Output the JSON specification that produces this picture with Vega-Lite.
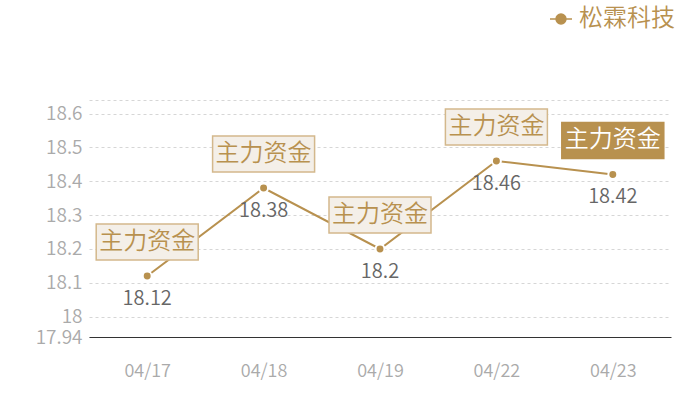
{
  "$schema": "https://vega.github.io/schema/vega-lite/v6.json",
  "autosize": "none",
  "width": 582,
  "height": 237,
  "padding": {"left": 89, "top": 100, "right": 29, "bottom": 63},
  "background": "white",
  "config": {
    "font": "Noto Sans CJK SC",
    "view": {"stroke": null}
  },
  "data": {
    "values": [
      {"date": "04/17", "price": 18.12, "tag": "主力资金", "stock": "松霖科技"},
      {"date": "04/18", "price": 18.38, "tag": "主力资金", "stock": "松霖科技"},
      {"date": "04/19", "price": 18.2, "tag": "主力资金", "stock": "松霖科技"},
      {"date": "04/22", "price": 18.46, "tag": "主力资金", "stock": "松霖科技"},
      {"date": "04/23", "price": 18.42, "tag": "主力资金", "stock": "松霖科技"}
    ]
  },
  "encoding": {
    "x": {
      "field": "date",
      "type": "ordinal",
      "title": null,
      "scale": {"paddingInner": 0, "paddingOuter": 0},
      "axis": {
        "labelAngle": 0,
        "labelColor": "#aaaaaa",
        "labelFontSize": 18,
        "labelFontWeight": 350,
        "labelPadding": 25,
        "ticks": false,
        "domainColor": "#333333",
        "domainWidth": 1,
        "grid": false
      }
    },
    "y": {
      "field": "price",
      "type": "quantitative",
      "title": null,
      "scale": {"domain": [17.94, 18.64], "nice": false, "zero": false},
      "axis": {
        "values": [17.94, 18, 18.1, 18.2, 18.3, 18.4, 18.5, 18.6, 18.64],
        "labelExpr": "datum.value == 18.64 ? '' : datum.value == 17.94 ? '17.94' : datum.value == 18 ? '18' : format(datum.value, '.1f')",
        "labelColor": "#aaaaaa",
        "labelFontSize": 19,
        "labelFontWeight": 350,
        "labelPadding": 7,
        "labelOverlap": false,
        "ticks": false,
        "domain": false,
        "gridColor": "#d6d6d6",
        "gridDash": [3, 3],
        "gridWidth": 1
      }
    }
  },
  "layer": [
    {
      "mark": {"type": "line", "color": "#b8914f", "strokeWidth": 2},
      "encoding": {
        "color": {
          "field": "stock",
          "type": "nominal",
          "scale": {"range": ["#b8914f"]},
          "legend": {
            "title": null,
            "orient": "none",
            "legendX": 460,
            "legendY": -93,
            "labelFontSize": 24,
            "labelFontWeight": 350,
            "labelColor": "#b8914f",
            "labelOffset": 6,
            "labelLimit": 200,
            "symbolType": "M-1,0L-0.45,0M0.45,0L1,0M0.45,0A0.45,0.45 0 1,1 -0.45,0A0.45,0.45 0 1,1 0.45,0Z",
            "symbolSize": 484,
            "symbolStrokeWidth": 1.5,
            "symbolFillColor": "#b8914f",
            "symbolStrokeColor": "#b8914f"
          }
        }
      }
    },
    {
      "mark": {"type": "point", "filled": true, "size": 80, "color": "#b8914f", "stroke": "white", "strokeWidth": 2, "opacity": 1}
    },
    {
      "mark": {"type": "text", "dy": 23, "fontSize": 20, "fontWeight": 350, "color": "#666666"},
      "encoding": {"text": {"field": "price", "type": "quantitative"}}
    },
    {
      "mark": {
        "type": "point",
        "shape": "M-1,-0.353L1,-0.353L1,0.353L-1,0.353Z",
        "size": 10404,
        "filled": true,
        "opacity": 1,
        "strokeWidth": 1.5,
        "yOffset": -34
      },
      "encoding": {
        "fill": {
          "condition": {"test": "datum.date == '04/23'", "value": "#b8914f"},
          "value": "#f4efe8"
        },
        "stroke": {
          "condition": {"test": "datum.date == '04/23'", "value": "#b8914f"},
          "value": "#d3b88c"
        }
      }
    },
    {
      "mark": {"type": "text", "dy": -34, "fontSize": 24, "fontWeight": 350},
      "encoding": {
        "text": {"field": "tag", "type": "nominal"},
        "color": {
          "condition": {"test": "datum.date == '04/23'", "value": "#ffffff"},
          "value": "#b8914f"
        }
      }
    }
  ]
}
